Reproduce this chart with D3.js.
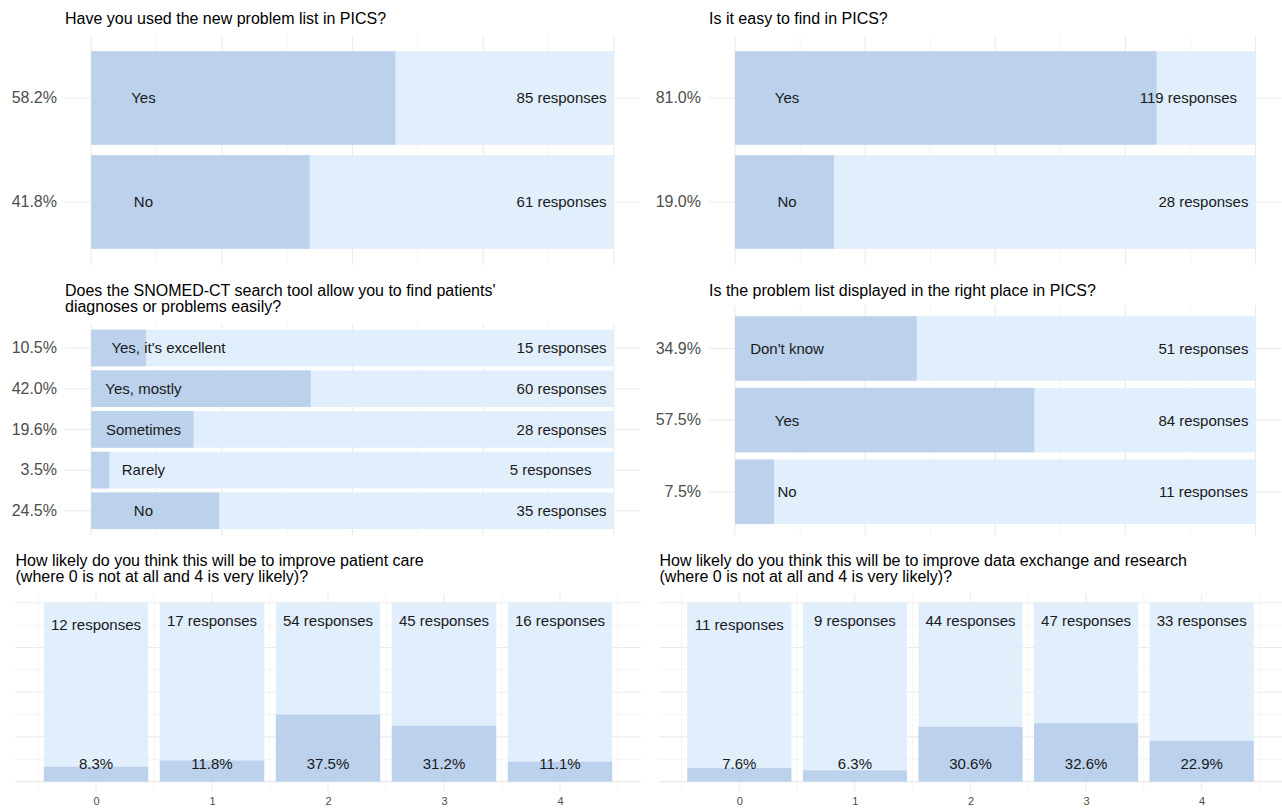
<!DOCTYPE html>
<html>
<head>
<meta charset="utf-8">
<script src="https://cdn.jsdelivr.net/npm/d3@7"></script>
<style>
  html, body { margin: 0; padding: 0; background: #ffffff; }
  svg { display: block; }
</style>
</head>
<body>
<svg id="chart" width="1282" height="812"></svg>
<script>
// ---------------- DATA ----------------
const q1Title = ["Have you used the new problem list in PICS?"];
const q1Categories = ["Yes", "No"];
const q1Counts = [85, 61];
const q1Percents = [58.2, 41.8];

const q2Title = ["Is it easy to find in PICS?"];
const q2Categories = ["Yes", "No"];
const q2Counts = [119, 28];
const q2Percents = [81.0, 19.0];

const q3Title = ["Does the SNOMED-CT search tool allow you to find patients'", "diagnoses or problems easily?"];
const q3Categories = ["Yes, it's excellent", "Yes, mostly", "Sometimes", "Rarely", "No"];
const q3Counts = [15, 60, 28, 5, 35];
const q3Percents = [10.5, 42.0, 19.6, 3.5, 24.5];

const q4Title = ["Is the problem list displayed in the right place in PICS?"];
const q4Categories = ["Don't know", "Yes", "No"];
const q4Counts = [51, 84, 11];
const q4Percents = [34.9, 57.5, 7.5];

const q5Title = ["How likely do you think this will be to improve patient care", "(where 0 is not at all and 4 is very likely)?"];
const q5Counts = [12, 17, 54, 45, 16];
const q5Percents = [8.3, 11.8, 37.5, 31.2, 11.1];

const q6Title = ["How likely do you think this will be to improve data exchange and research", "(where 0 is not at all and 4 is very likely)?"];
const q6Counts = [11, 9, 44, 47, 33];
const q6Percents = [7.6, 6.3, 30.6, 32.6, 22.9];

const likertTicks = [0, 1, 2, 3, 4];

// ---------------- STYLE ----------------
const FONT = "'Liberation Sans', Arial, Helvetica, sans-serif";
const BG_BAR = "#E1EEFC";
const FILL_BAR = "#BBD1EC";
const GRID = "#EBEBEB";
const AXIS_TEXT = "#4D4D4D";
const TEXT = "#1A1A1A";
const pctFmt = v => d3.format(".1f")(v) + "%";
const respFmt = n => n + " responses";

const svg = d3.select("#chart");

function drawTitle(g, lines, x, y) {
  lines.forEach((t, i) => {
    g.append("text").attr("x", x).attr("y", y + i * 16.5)
      .attr("font-family", FONT).attr("font-size", 16).attr("fill", "#000")
      .text(t);
  });
}

// Horizontal (category on y) panel
function horizontalPanel(cfg) {
  const g = svg.append("g");
  drawTitle(g, cfg.title, cfg.titleX, cfg.titleY);
  const w = cfg.right - cfg.left;
  const inset = w / 22; // 5% expansion each side of [0,1]
  const x = d3.scaleLinear().domain([0, 1]).range([cfg.left + inset, cfg.right - inset]);
  const y = d3.scaleBand().domain(cfg.categories).range([cfg.top, cfg.bottom])
    .paddingInner(0.1).paddingOuter(0.15);

  // grid
  const xGrid = d3.range(0, 9).map(i => i / 8);
  g.selectAll(".vg").data(xGrid).join("line")
    .attr("x1", d => x(d)).attr("x2", d => x(d))
    .attr("y1", cfg.top).attr("y2", cfg.bottom)
    .attr("stroke", GRID).attr("stroke-width", (d, i) => i % 2 === 0 ? 1.1 : 0.55);
  g.selectAll(".hg").data(cfg.categories).join("line")
    .attr("x1", cfg.left).attr("x2", cfg.right)
    .attr("y1", d => y(d) + y.bandwidth() / 2).attr("y2", d => y(d) + y.bandwidth() / 2)
    .attr("stroke", GRID).attr("stroke-width", 1.1);

  // bars
  g.selectAll(".bg").data(cfg.categories).join("rect")
    .attr("x", x(0)).attr("width", x(1) - x(0))
    .attr("y", d => y(d)).attr("height", y.bandwidth())
    .attr("fill", BG_BAR);
  g.selectAll(".fb").data(cfg.categories).join("rect")
    .attr("x", x(0)).attr("width", (d, i) => x(cfg.percents[i] / 100) - x(0))
    .attr("y", d => y(d)).attr("height", y.bandwidth())
    .attr("fill", FILL_BAR);

  // labels
  const adj = cfg.adjust || {};
  g.selectAll(".cl").data(cfg.categories).join("text")
    .attr("x", (d, i) => x(0.1) + ((adj["cat" + i] || {}).dx || 0))
    .attr("y", d => y(d) + y.bandwidth() / 2)
    .attr("dy", "0.36em").attr("text-anchor", "middle")
    .attr("font-family", FONT).attr("font-size", 15).attr("fill", TEXT)
    .text(d => d);
  g.selectAll(".rl").data(cfg.categories).join("text")
    .attr("x", (d, i) => x(0.9) + ((adj["resp" + i] || {}).dx || 0))
    .attr("y", d => y(d) + y.bandwidth() / 2)
    .attr("dy", "0.36em").attr("text-anchor", "middle")
    .attr("font-family", FONT).attr("font-size", 15).attr("fill", TEXT)
    .text((d, i) => respFmt(cfg.counts[i]));

  // axis (percentages as y labels)
  const ax = g.append("g").attr("transform", `translate(${cfg.left},0)`)
    .call(d3.axisLeft(y).tickSize(0).tickPadding(8)
      .tickFormat((d, i) => pctFmt(cfg.percents[i])));
  ax.select(".domain").remove();
  ax.attr("font-family", FONT).attr("font-size", 16);
  ax.selectAll("text").attr("fill", AXIS_TEXT);
}

// Vertical (likert 0-4) panel
function verticalPanel(cfg) {
  const g = svg.append("g");
  drawTitle(g, cfg.title, cfg.titleX, cfg.titleY);
  const x = d3.scaleLinear().domain([-0.695, 4.695]).range([cfg.left, cfg.right]);
  const y = d3.scaleLinear().domain([-0.05, 1.05]).range([cfg.bottom, cfg.top]);

  // grid
  const yGrid = d3.range(0, 9).map(i => i / 8);
  g.selectAll(".hg").data(yGrid).join("line")
    .attr("x1", cfg.left).attr("x2", cfg.right)
    .attr("y1", d => y(d)).attr("y2", d => y(d))
    .attr("stroke", GRID).attr("stroke-width", (d, i) => i % 2 === 0 ? 1.1 : 0.55);
  const xMinor = d3.range(-0.5, 5, 1);
  g.selectAll(".vmg").data(xMinor).join("line")
    .attr("x1", d => x(d)).attr("x2", d => x(d))
    .attr("y1", cfg.top).attr("y2", cfg.bottom)
    .attr("stroke", GRID).attr("stroke-width", 0.55);
  g.selectAll(".vg").data(likertTicks).join("line")
    .attr("x1", d => x(d)).attr("x2", d => x(d))
    .attr("y1", cfg.top).attr("y2", cfg.bottom)
    .attr("stroke", GRID).attr("stroke-width", 1.1);

  // bars
  g.selectAll(".bg").data(likertTicks).join("rect")
    .attr("x", d => x(d - 0.45)).attr("width", d => x(d + 0.45) - x(d - 0.45))
    .attr("y", y(1)).attr("height", y(0) - y(1))
    .attr("fill", BG_BAR);
  g.selectAll(".fb").data(likertTicks).join("rect")
    .attr("x", d => x(d - 0.45)).attr("width", d => x(d + 0.45) - x(d - 0.45))
    .attr("y", (d, i) => y(cfg.percents[i] / 100))
    .attr("height", (d, i) => y(0) - y(cfg.percents[i] / 100))
    .attr("fill", FILL_BAR);

  // labels
  const adj = cfg.adjust || {};
  g.selectAll(".rl").data(likertTicks).join("text")
    .attr("x", d => x(d))
    .attr("y", (d, i) => y(0.9) + ((adj["resp" + i] || {}).dy || 0))
    .attr("dy", "0.36em").attr("text-anchor", "middle")
    .attr("font-family", FONT).attr("font-size", 15).attr("fill", TEXT)
    .text((d, i) => respFmt(cfg.counts[i]));
  g.selectAll(".pl").data(likertTicks).join("text")
    .attr("x", d => x(d))
    .attr("y", y(0.1))
    .attr("dy", "0.36em").attr("text-anchor", "middle")
    .attr("font-family", FONT).attr("font-size", 15).attr("fill", TEXT)
    .text((d, i) => pctFmt(cfg.percents[i]));

  // axis
  const ax = g.append("g").attr("transform", `translate(0,${cfg.bottom})`)
    .call(d3.axisBottom(x).tickValues(likertTicks).tickSize(0).tickPadding(7)
      .tickFormat(d3.format("d")));
  ax.select(".domain").remove();
  ax.attr("font-family", FONT).attr("font-size", 11);
  ax.selectAll("text").attr("fill", AXIS_TEXT);
}

horizontalPanel({
  title: q1Title, titleX: 65, titleY: 23.5,
  categories: q1Categories, counts: q1Counts, percents: q1Percents,
  left: 65, right: 640, top: 35.6, bottom: 264.4
});
horizontalPanel({
  title: q2Title, titleX: 709, titleY: 23.5,
  categories: q2Categories, counts: q2Counts, percents: q2Percents,
  left: 709, right: 1281.5, top: 35.6, bottom: 264.4,
  adjust: { resp0: { dx: -15 } }
});
horizontalPanel({
  title: q3Title, titleX: 65, titleY: 295.5,
  categories: q3Categories, counts: q3Counts, percents: q3Percents,
  left: 65, right: 640, top: 323.6, bottom: 535.2,
  adjust: { cat0: { dx: 25 }, resp3: { dx: -11 } }
});
horizontalPanel({
  title: q4Title, titleX: 709, titleY: 295.5,
  categories: q4Categories, counts: q4Counts, percents: q4Percents,
  left: 709, right: 1281.5, top: 305.5, bottom: 534.7
});
verticalPanel({
  title: q5Title, titleX: 15.5, titleY: 565.5,
  counts: q5Counts, percents: q5Percents,
  left: 15.4, right: 640.6, top: 593.75, bottom: 790.6,
  adjust: { resp0: { dy: 4 } }
});
verticalPanel({
  title: q6Title, titleX: 659.5, titleY: 565.5,
  counts: q6Counts, percents: q6Percents,
  left: 659, right: 1282, top: 593.75, bottom: 790.6,
  adjust: { resp0: { dy: 4 } }
});
</script>
</body>
</html>
